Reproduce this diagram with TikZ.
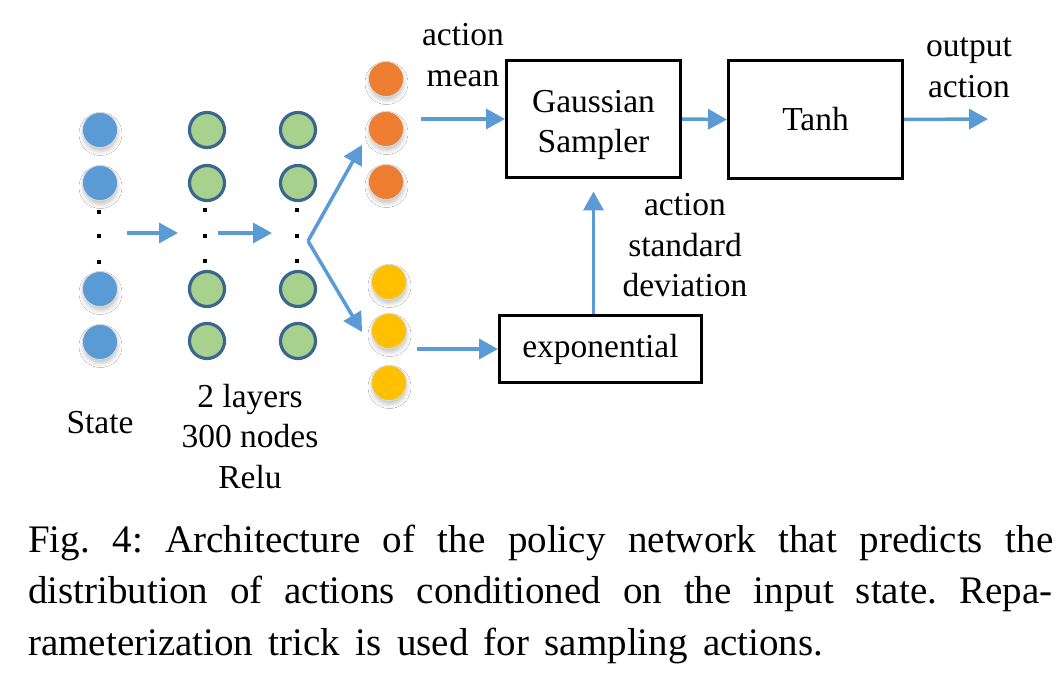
\documentclass[tikz,border=0pt]{standalone}
\usepackage{fontspec}
\setmainfont{Liberation Serif}
\usetikzlibrary{arrows.meta,shadows.blur,calc}

\definecolor{nblue}{HTML}{5B9BD5}
\definecolor{ngreen}{HTML}{A9D18E}
\definecolor{ngreenline}{HTML}{3A6690}
\definecolor{norange}{HTML}{ED7D31}
\definecolor{nyellow}{HTML}{FFC000}

\newcommand\mlines[1]{\vtop{\baselineskip=40.5pt\lineskiplimit=-100pt\halign{\hfil##\hfil\cr#1\crcr}}}

\begin{document}
\begin{tikzpicture}[x=1pt,y=-1pt,
  neuron/.style={circle,inner sep=0pt,minimum size=35pt},
  shad/.style={draw=black!14,line width=0.8pt,blur shadow={shadow xshift=0.5pt,shadow yshift=-4pt,shadow blur radius=4pt,shadow opacity=22}},
  inneuron/.style={neuron,shad,fill=nblue},
  hidneuron/.style={neuron,fill=ngreen,draw=ngreenline,line width=3.2pt,minimum size=35pt},
  meanneuron/.style={neuron,shad,fill=norange},
  stdneuron/.style={neuron,shad,fill=nyellow},
  dotsq/.style={rectangle,fill=black,inner sep=0pt,minimum size=4.5pt},
  arr/.style={draw=nblue,line width=3.5pt,-{Triangle[length=19pt,width=20pt]}},
  blk/.style={draw=black,line width=3pt,align=center,inner sep=0pt,font=\fontsize{33.5}{40}\selectfont},
  lbl/.style={inner sep=0pt,font=\fontsize{33.5}{40.5}\selectfont},
  captxt/.style={anchor=base west,inner sep=0pt,font=\fontsize{39}{51}\selectfont\frenchspacing}]

\fill[white] (0,0) rectangle (1064,676);
\useasboundingbox (0,0) rectangle (1064,676);

% input layer
\foreach \i/\y in {1/130,2/183,3/289,4/342} \node[inneuron] (b\i) at (100,\y) {};
\foreach \i/\y in {1/212,2/236,3/262} \node[dotsq] (bd\i) at (99,\y) {};
% hidden layers
\foreach \i/\y in {1/130,2/183,3/289,4/341} {
  \node[hidneuron] (g\i) at (207,\y) {};
  \node[hidneuron] (h\i) at (298,\y) {};
}
\foreach \i/\y in {1/210,2/236,3/261} {
  \node[dotsq] (gd\i) at (205,\y) {};
  \node[dotsq] (hd\i) at (297,\y) {};
}
% output heads
\foreach \i/\y in {1/79,2/129,3/182} \node[meanneuron] (o\i) at (386,\y) {};
\foreach \i/\y in {1/282,2/331,3/383} \node[stdneuron] (y\i) at (389,\y) {};

% boxes
\node[blk,minimum width=174pt,minimum height=117pt] (gs) at (593.5,119)
  {\raisebox{-6pt}[\height][\depth]{\mlines{Gaussian\cr Sampler}}};
\node[blk,minimum width=174pt,minimum height=118pt] (th) at (815.5,119.5) {Tanh};
\node[blk,minimum width=202pt,minimum height=67pt] (ex) at (600.5,349) {exponential};

% connector ends
\coordinate (a1s) at (127,233);
\coordinate (a1e) at (178,233);
\coordinate (a2s) at (218,233);
\coordinate (a2e) at (272,233);
\coordinate (br) at (308,241);
\coordinate (bru) at (362,145);
\coordinate (brl) at (362,332);
\coordinate (meanin) at (421,119);
\coordinate (outend) at (988,119);
\coordinate (expin) at (417,349);

\draw[arr] (a1s) -- (a1e);
\draw[arr] (a2s) -- (a2e);
\draw[arr] (br) -- (bru);
\draw[arr] (br) -- (brl);
\draw[arr] (meanin) -- (gs.west);
\draw[arr] (gs.east) -- (th.west);
\draw[arr] (th.east) -- (outend);
\draw[arr] (expin) -- (ex.west);
\draw[arr] (gs.south |- ex.north) -- ($(gs.south)+(0,12.5)$);

% labels
\node[lbl,anchor=base] (lmean) at (463,46) {\mlines{action\cr mean}};
\node[lbl,anchor=base] (lout) at (969,57) {\mlines{output\cr action}};
\node[lbl,anchor=base] (lstd) at (685,216) {\mlines{action\cr standard\cr deviation}};
\node[lbl,anchor=base] (lstate) at (100,433) {State};
\node[lbl,anchor=base] (llay) at (250,407) {\mlines{2 layers\cr 300 nodes\cr Relu}};

% caption
\node[captxt] (cap1) at (28,552) {\makebox[1025pt][s]{Fig. 4: Architecture of the policy network that predicts the}};
\node[captxt] (cap2) at (28,603) {\makebox[1024pt][s]{distribution of actions conditioned on the input state. Repa-}};
\node[captxt] (cap3) at (28,655) {\makebox[795pt][s]{rameterization trick is used for sampling actions.}};
\end{tikzpicture}
\end{document}
